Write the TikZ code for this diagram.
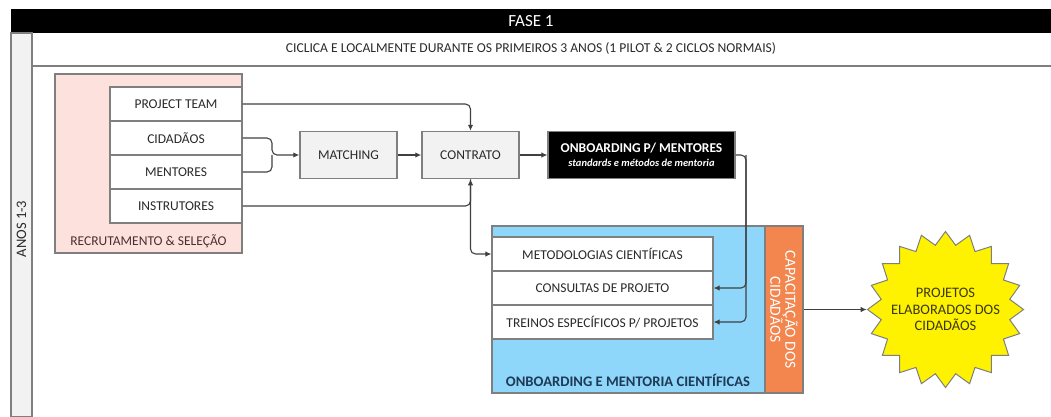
\documentclass[tikz,border=0pt]{standalone}
\usepackage{fontspec}
\setmainfont{Carlito}
\usetikzlibrary{shapes.geometric,arrows.meta}

\definecolor{edge}{HTML}{7F7F7F}
\definecolor{wirec}{HTML}{404040}
\definecolor{pinkfill}{HTML}{FCE1DD}
\definecolor{panel}{HTML}{F2F2F2}
\definecolor{skyfill}{HTML}{8FD6FB}
\definecolor{orangefill}{HTML}{F3864F}
\definecolor{labeltext}{HTML}{2A2A2A}
\definecolor{navytext}{HTML}{1F3A55}
\definecolor{redtext}{HTML}{4A3030}
\definecolor{olivetext}{HTML}{3A3A10}

\begin{document}
\begin{tikzpicture}[x=1pt,y=-1pt,
  font=\fontsize{13.5}{15}\selectfont,
  listbox/.style={draw=edge, line width=1.2pt, fill=white, minimum height=34pt,
                  inner sep=0pt, text=labeltext},
  stepbox/.style={draw=edge, line width=1.5pt, fill=panel, minimum width=97pt,
                  minimum height=47pt, inner sep=0pt, text=labeltext},
  wire/.style={draw=wirec, line width=1.1pt, rounded corners=5pt},
  flow/.style={wire, -{Latex[length=6pt,width=5.5pt]}},
]
\useasboundingbox (0,0) rectangle (1051,416);

% swimlane frame
\fill[black] (11,9) rectangle (1051,33);
\node[text=white, font=\fontsize{17}{19}\selectfont] (phase) at (531,21) {FASE 1};
\filldraw[fill=panel, draw=edge, line width=1.2pt] (11,33) rectangle (32,417);
\draw[edge, line width=1.2pt] (32,66) -- (1052,66);
\node[text=labeltext, font=\fontsize{13.6}{15}\selectfont] (subtitle) at (531,48)
  {CICLICA E LOCALMENTE DURANTE OS PRIMEIROS 3 ANOS (1 PILOT \& 2 CICLOS NORMAIS)};
\node[rotate=90, text=labeltext, font=\fontsize{14.5}{16}\selectfont] (years) at (21.5,229) {ANOS 1-3};

% recruitment group
\node[draw=edge, fill=pinkfill, line width=1.2pt, minimum width=187pt,
      minimum height=179pt, inner sep=0pt] (recruit) at (148.5,163.5) {};
\node[text=redtext] (recruitlbl) at (148.5,241) {RECRUTAMENTO \& SELEÇÃO};
\node[listbox, minimum width=132pt] (team)  at (176,104) {PROJECT TEAM};
\node[listbox, minimum width=132pt] (cit)   at (176,138) {CIDADÃOS};
\node[listbox, minimum width=132pt] (ment)  at (176,172) {MENTORES};
\node[listbox, minimum width=132pt] (instr) at (176,206) {INSTRUTORES};

% process steps
\node[stepbox] (match)    at (348.5,155) {MATCHING};
\node[stepbox] (contract) at (470.5,155) {CONTRATO};
\node[draw=edge, line width=1.2pt, fill=black, text=white, minimum width=187pt,
      minimum height=47pt, inner sep=0pt, align=center] (onb) at (641.5,155)
  {{\bfseries ONBOARDING P/ MENTORES}\\[-1pt]
   {\fontsize{10.5}{12}\selectfont\bfseries\itshape standards e métodos de mentoria}};

% mentoring group
\node[draw=edge, fill=skyfill, line width=1.2pt, minimum width=273pt,
      minimum height=167pt, inner sep=0pt] (mentoring) at (628.5,309.5) {};
\node[text=navytext, font=\fontsize{14.6}{16}\selectfont\bfseries] (mentoringlbl) at (628,380)
  {ONBOARDING E MENTORIA CIENTÍFICAS};
\node[draw=edge, fill=orangefill, line width=1.2pt, minimum width=38pt,
      minimum height=167pt, inner sep=0pt] (capac) at (784,309.5) {};
\node[rotate=-90, text=white, align=center, font=\fontsize{15.5}{15}\selectfont]
  (capaclbl) at (784,309.5) {CAPACITAÇÃO DOS\\CIDADÃOS};
\node[listbox, minimum width=221pt] (method)  at (602.5,254) {METODOLOGIAS CIENTÍFICAS};
\node[listbox, minimum width=221pt] (consult) at (602.5,288) {CONSULTAS DE PROJETO};
\node[listbox, minimum width=221pt] (train)   at (602.5,322) {TREINOS ESPECÍFICOS P/ PROJETOS};

% outcome
\node[star, star points=20, star point ratio=1.2, minimum size=156pt,
      draw=edge, fill=yellow, line width=1pt, inner sep=0pt] (goal) at (945.5,309.5) {};
\node[align=center, text=olivetext, font=\fontsize{14.5}{16.5}\selectfont] (goallbl)
  at (goal.center) {PROJETOS\\ELABORADOS DOS\\CIDADÃOS};

% connectors
\coordinate (join) at (272,155);
\coordinate (drop) at (746,155);
\draw[flow] (team.east) -| (contract.north);
\draw[flow] (instr.east) -| (contract.south);
\draw[flow] (contract.south) |- (method.west);
\draw[wire] (ment.east) -| (join);
\draw[flow] (cit.east) -| (join) -- (match.west);
\draw[flow] (match.east) -- (contract.west);
\draw[flow] (contract.east) -- (onb.west);
\draw[flow] (onb.east) -- (drop) |- (consult.east);
\draw[flow] (drop) |- (train.east);
\draw[flow] (capac.east) -- (goal.west);
\end{tikzpicture}
\end{document}
